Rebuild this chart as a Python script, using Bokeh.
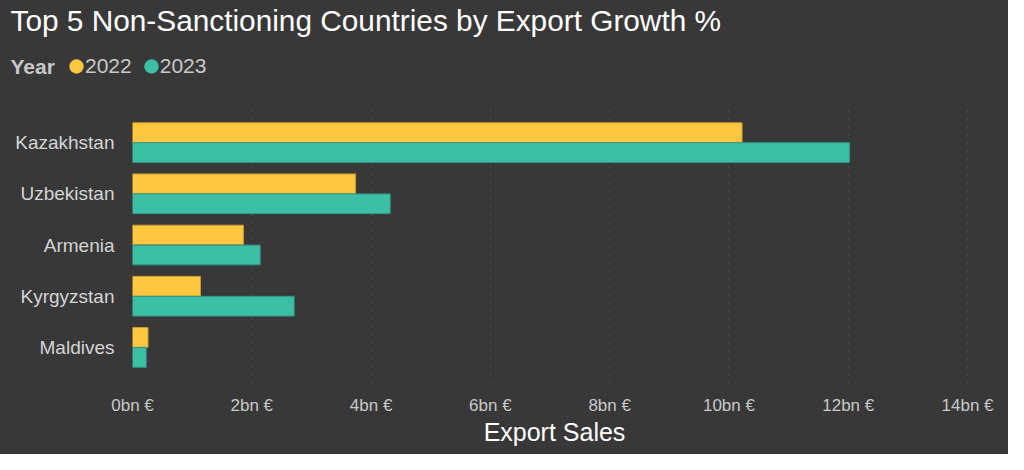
from bokeh.plotting import figure
from bokeh.layouts import column
from bokeh.models import (ColumnDataSource, FactorRange, Range1d, FixedTicker, Label,
                          Legend, LegendItem)
from bokeh.transform import dodge
from bokeh.embed import file_html
from bokeh.resources import INLINE

# ---- data ----
countries = ["Kazakhstan", "Uzbekistan", "Armenia", "Kyrgyzstan", "Maldives"]
sales_2022 = [10.22, 3.74, 1.86, 1.14, 0.26]   # bn €
sales_2023 = [12.02, 4.32, 2.14, 2.71, 0.23]   # bn €
tick_values = [0, 2, 4, 6, 8, 10, 12, 14]
tick_labels = ["0bn €", "2bn €", "4bn €", "6bn €", "8bn €", "10bn €", "12bn €", "14bn €"]
title_text = "Top 5 Non-Sanctioning Countries by Export Growth %"
legend_title = "Year"
series_names = ["2022", "2023"]
x_title = "Export Sales"

BG = "#383838"
YELLOW = "#FFC640"
GREEN = "#3DBFA6"
FONT = "Liberation Sans"
W = 1008
HEAD_H = 106
MAIN_H = 348

# ---------- header (title + legend) ----------
head = figure(width=W, height=HEAD_H, x_range=Range1d(0, W), y_range=Range1d(HEAD_H, 0),
              output_backend="svg", toolbar_location=None,
              min_border=0, x_axis_type=None, y_axis_type=None,
              styles={"background-color": BG})
head.frame_align = False
head.background_fill_color = None
head.border_fill_color = None
head.outline_line_color = None
head.grid.visible = False

head.add_layout(Label(x=10, y=20, text=title_text, text_font=FONT, text_font_size="29.8px",
                      text_color="#ffffff", text_baseline="middle"))
head.add_layout(Label(x=10, y=66, text=legend_title, text_font=FONT, text_font_size="21px",
                      text_font_style="bold", text_color="#c8c8c8",
                      text_baseline="middle"))

nan = float("nan")
proxy = ColumnDataSource(dict(x=[nan], y=[nan]))
series_colors = [YELLOW, GREEN]
items = []
for name, col in zip(series_names, series_colors):
    g = head.ellipse(x="x", y="y", width=14, height=14, width_units="screen",
                     height_units="screen", source=proxy, fill_color=col, line_color=None)
    items.append(LegendItem(label=name, renderers=[g]))
leg = Legend(items=items, orientation="horizontal", location=(67, 28),
             background_fill_alpha=0, border_line_color=None,
             padding=0, margin=0, spacing=10, label_standoff=0,
             glyph_width=18, glyph_height=18,
             label_text_font=FONT, label_text_font_size="21px",
             label_text_color="#c8c8c8")
head.add_layout(leg, "center")

# ---------- main bar chart ----------
src = ColumnDataSource(dict(country=countries, y2022=sales_2022, y2023=sales_2023))

p = figure(width=W, height=MAIN_H,
           y_range=FactorRange(*countries[::-1], range_padding=0.082),
           x_range=Range1d(0, 14.15),
           output_backend="svg", toolbar_location=None,
           min_border_left=132, min_border_right=32,
           min_border_top=0, min_border_bottom=71,
           styles={"background-color": BG})
p.frame_align = False
p.background_fill_color = None
p.border_fill_color = None
p.outline_line_color = None

p.hbar(y=dodge("country", 0.195, range=p.y_range), right="y2022", left=0,
       height=0.385, source=src, fill_color=YELLOW, line_color="#C99A30", line_width=1)
p.hbar(y=dodge("country", -0.195, range=p.y_range), right="y2023", left=0,
       height=0.385, source=src, fill_color=GREEN, line_color="#2E9985", line_width=1)

p.xaxis.ticker = FixedTicker(ticks=tick_values)
p.xaxis.major_label_overrides = {v: l for v, l in zip(tick_values, tick_labels)}
p.xaxis.axis_line_color = None
p.xaxis.major_tick_line_color = None
p.xaxis.minor_tick_line_color = None
p.xaxis.major_label_text_color = "#c8c8c8"
p.xaxis.major_label_text_font = FONT
p.xaxis.major_label_text_font_size = "17px"
p.xaxis.major_label_standoff = 6
p.xaxis.axis_label = x_title
p.xaxis.axis_label_text_color = "#ffffff"
p.xaxis.axis_label_text_font = FONT
p.xaxis.axis_label_text_font_style = "normal"
p.xaxis.axis_label_text_font_size = "25px"
p.xaxis.axis_label_standoff = 0

p.yaxis.axis_line_color = None
p.yaxis.major_tick_line_color = None
p.yaxis.minor_tick_line_color = None
p.yaxis.major_label_text_color = "#d4d4d4"
p.yaxis.major_label_text_font = FONT
p.yaxis.major_label_text_font_size = "19px"
p.yaxis.major_label_standoff = 12

p.ygrid.grid_line_color = None
p.xgrid.grid_line_color = "#646464"
p.xgrid.grid_line_dash = "1 7"
p.xgrid.grid_line_width = 1

layout = column(head, p, spacing=0, styles={"background-color": BG})
open("out.html", "w").write(file_html(layout, INLINE))
